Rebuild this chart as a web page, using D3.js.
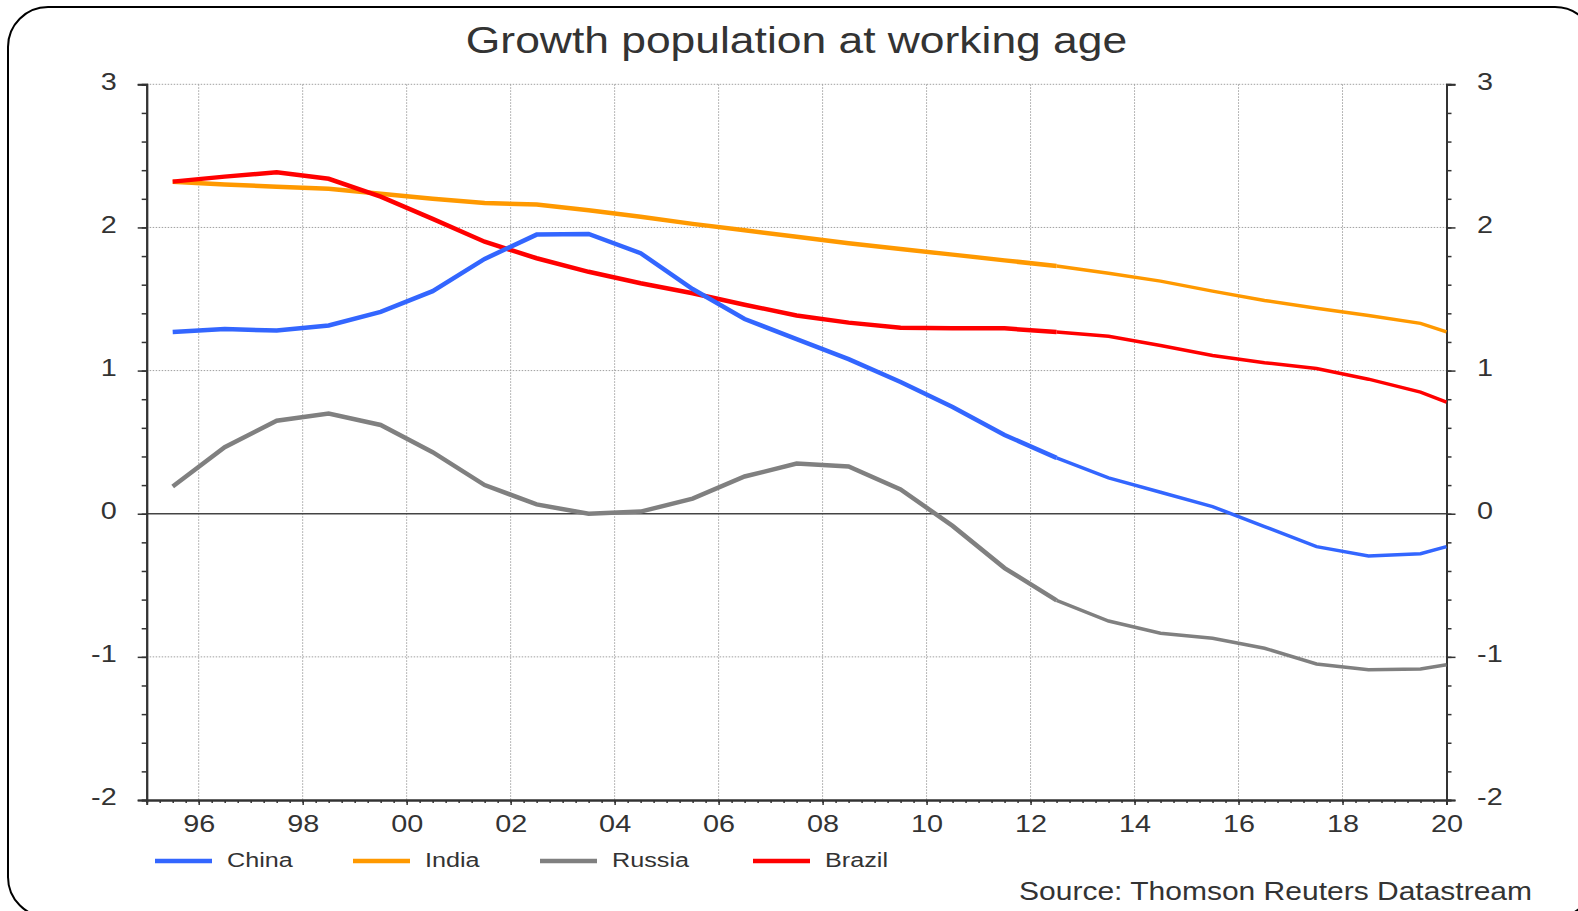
<!DOCTYPE html>
<html>
    <head>
        <meta charset="utf-8">
        <title>Growth population at working age</title>
        <script src="https://cdnjs.cloudflare.com/ajax/libs/d3/7.8.5/d3.min.js"></script>
        <style>
            body { margin: 0; background: #ffffff; }
            text { font-family: "Liberation Sans", Arial, sans-serif; fill: #333333; }
        </style>
    </head>
    <body>
        <script type="text/javascript">

            // Data (mid-year points, last one at 2020)
            var periods = [1995.5, 1996.5, 1997.5, 1998.5, 1999.5, 2000.5, 2001.5, 2002.5,
                           2003.5, 2004.5, 2005.5, 2006.5, 2007.5, 2008.5, 2009.5, 2010.5,
                           2011.5, 2012.5, 2013.5, 2014.5, 2015.5, 2016.5, 2017.5, 2018.5,
                           2019.5, 2020.0];
            var china  = [1.27, 1.29, 1.28, 1.315, 1.41, 1.555, 1.78, 1.95, 1.955, 1.82, 1.57, 1.36,
                          1.22, 1.08, 0.92, 0.745, 0.55, 0.39, 0.25, 0.15, 0.05, -0.09, -0.23, -0.295,
                          -0.28, -0.23];
            var india  = [2.32, 2.30, 2.285, 2.27, 2.235, 2.20, 2.17, 2.16, 2.12, 2.075, 2.025, 1.98,
                          1.935, 1.89, 1.85, 1.81, 1.77, 1.73, 1.68, 1.625, 1.555, 1.49, 1.435, 1.385,
                          1.33, 1.27];
            var russia = [0.19, 0.465, 0.65, 0.70, 0.62, 0.43, 0.20, 0.065, 0.0, 0.015, 0.105, 0.26,
                          0.35, 0.33, 0.17, -0.085, -0.38, -0.605, -0.75, -0.835, -0.87, -0.94, -1.05,
                          -1.09, -1.085, -1.055];
            var brazil = [2.32, 2.355, 2.385, 2.34, 2.215, 2.06, 1.90, 1.785, 1.69, 1.61, 1.54, 1.46,
                          1.385, 1.335, 1.30, 1.295, 1.295, 1.27, 1.24, 1.175, 1.105, 1.055, 1.015,
                          0.94, 0.85, 0.78];

            var seriesNames = ["China", "India", "Russia", "Brazil"];
            var seriesColors = ["#3366ff", "#ff9900", "#808080", "#ff0000"];
            var yearTicks = [1996, 1998, 2000, 2002, 2004, 2006, 2008, 2010, 2012, 2014, 2016, 2018, 2020];
            var valueTicks = [-2, -1, 0, 1, 2, 3];

            // index where the lines switch from thick to thin
            var splitIndex = 17;

            var svg_width = 1578;
            var svg_height = 911;
            var plotLeft = 146.7, plotRight = 1446.5, plotTop = 84.3, plotBottom = 800;

            var svg = d3.select("body")
                        .append("svg")
                        .attr("width", svg_width)
                        .attr("height", svg_height);

            // Rounded frame
            svg.append("rect")
               .attr("x", 8).attr("y", 7)
               .attr("width", 1587).attr("height", 910)
               .attr("rx", 40).attr("ry", 40)
               .attr("fill", "none")
               .attr("stroke", "#000000")
               .attr("stroke-width", 2);

            // Title
            svg.append("text")
               .attr("transform", "translate(796.5,53) scale(1.2,1)")
               .attr("text-anchor", "middle")
               .style("font-size", "37px")
               .text("Growth population at working age");

            // Scales
            var xScale = d3.scaleLinear().domain([1995, 2020]).range([plotLeft, plotRight]);
            var yScale = d3.scaleLinear().domain([-2, 3]).range([plotBottom, plotTop]);

            // Grid lines
            svg.append("g").selectAll("line")
               .data(yearTicks.slice(0, -1))
               .enter().append("line")
               .attr("x1", function(d) { return xScale(d); })
               .attr("x2", function(d) { return xScale(d); })
               .attr("y1", plotTop).attr("y2", plotBottom)
               .attr("stroke", "#a0a0a0")
               .attr("stroke-width", 1)
               .attr("stroke-dasharray", "1.5,1.5");

            svg.append("g").selectAll("line")
               .data(valueTicks.filter(function(d) { return d != 0 && d != -2; }))
               .enter().append("line")
               .attr("x1", plotLeft).attr("x2", plotRight)
               .attr("y1", function(d) { return yScale(d); })
               .attr("y2", function(d) { return yScale(d); })
               .attr("stroke", "#a0a0a0")
               .attr("stroke-width", 1)
               .attr("stroke-dasharray", "1.5,1.5");

            // Zero line
            svg.append("line")
               .attr("x1", plotLeft).attr("x2", plotRight)
               .attr("y1", yScale(0)).attr("y2", yScale(0))
               .attr("stroke", "#444444")
               .attr("stroke-width", 1.5);

            // Minor tick values
            var minorY = d3.range(-2, 3.001, 0.2);
            var minorX = d3.range(1995, 2020.001, 0.25);
            var plainNumber = function(d) { return String(d); };

            function styleAxis(g) {
                g.select(".domain").attr("stroke", "#333333").attr("stroke-width", 2);
                g.selectAll(".tick line").attr("stroke", "#333333").attr("stroke-width", 1.5);
            }

            // Left axis
            svg.append("g")
               .attr("transform", "translate(" + plotLeft + ",0)")
               .call(d3.axisLeft(yScale).tickValues(minorY).tickSize(5).tickFormat(""))
               .call(styleAxis);
            var yLeft = svg.append("g")
               .attr("transform", "translate(" + plotLeft + ",0)")
               .call(d3.axisLeft(yScale).tickValues(valueTicks).tickSize(9).tickFormat(plainNumber))
               .call(styleAxis);
            yLeft.selectAll(".tick text")
                 .attr("x", -25).attr("dy", "0.2em")
                 .attr("transform", "scale(1.2,1)")
                 .style("font-size", "24px").attr("fill", "#333333");

            // Right axis
            svg.append("g")
               .attr("transform", "translate(" + plotRight + ",0)")
               .call(d3.axisRight(yScale).tickValues(minorY).tickSize(5).tickFormat(""))
               .call(styleAxis);
            var yRight = svg.append("g")
               .attr("transform", "translate(" + plotRight + ",0)")
               .call(d3.axisRight(yScale).tickValues(valueTicks).tickSize(9).tickFormat(plainNumber))
               .call(styleAxis);
            yRight.selectAll(".tick text")
                  .attr("x", 25.5).attr("dy", "0.2em")
                  .attr("transform", "scale(1.2,1)")
                  .style("font-size", "24px").attr("fill", "#333333");

            // Bottom axis
            svg.append("g")
               .attr("transform", "translate(0," + plotBottom + ")")
               .call(d3.axisBottom(xScale).tickValues(minorX).tickSize(3).tickFormat(""))
               .call(styleAxis);
            var xAxis = svg.append("g")
               .attr("transform", "translate(0," + plotBottom + ")")
               .call(d3.axisBottom(xScale).tickValues(yearTicks).tickSize(5)
                       .tickFormat(function(d) { return d3.format("02d")(d % 100); }))
               .call(styleAxis);
            xAxis.selectAll(".tick text")
                 .attr("x", 0).attr("y", 32).attr("dy", 0)
                 .attr("transform", "scale(1.2,1)")
                 .style("font-size", "24px").attr("fill", "#333333");

            // Lines: thick part up to 2012.5, thin part after
            var line = d3.line()
                         .x(function(d) { return xScale(d[0]); })
                         .y(function(d) { return yScale(d[1]); });

            var drawOrder = [1, 2, 3, 0];
            var allSeries = [china, india, russia, brazil];
            drawOrder.forEach(function(s) {
                var pts = periods.map(function(p, i) { return [p, allSeries[s][i]]; });
                svg.append("path")
                   .datum(pts.slice(0, splitIndex + 1))
                   .attr("d", line)
                   .attr("fill", "none")
                   .attr("stroke", seriesColors[s])
                   .attr("stroke-width", 4.5);
                svg.append("path")
                   .datum(pts.slice(splitIndex))
                   .attr("d", line)
                   .attr("fill", "none")
                   .attr("stroke", seriesColors[s])
                   .attr("stroke-width", 3.5);
            });

            // Legend
            var legendX = [155, 353, 540, 753];
            var legend = svg.append("g").selectAll("g")
                            .data(seriesNames)
                            .enter().append("g")
                            .attr("transform", function(d, i) { return "translate(" + legendX[i] + ",861)"; });
            legend.append("line")
                  .attr("x1", 0).attr("x2", 57)
                  .attr("stroke", function(d, i) { return seriesColors[i]; })
                  .attr("stroke-width", 4.5);
            legend.append("text")
                  .attr("transform", "translate(72,5.5) scale(1.2,1)")
                  .style("font-size", "21px")
                  .text(function(d) { return d; });

            // Source
            svg.append("text")
               .attr("transform", "translate(1532,900) scale(1.2,1)")
               .attr("text-anchor", "end")
               .style("font-size", "25px")
               .text("Source: Thomson Reuters Datastream");

        </script>
    </body>
</html>
